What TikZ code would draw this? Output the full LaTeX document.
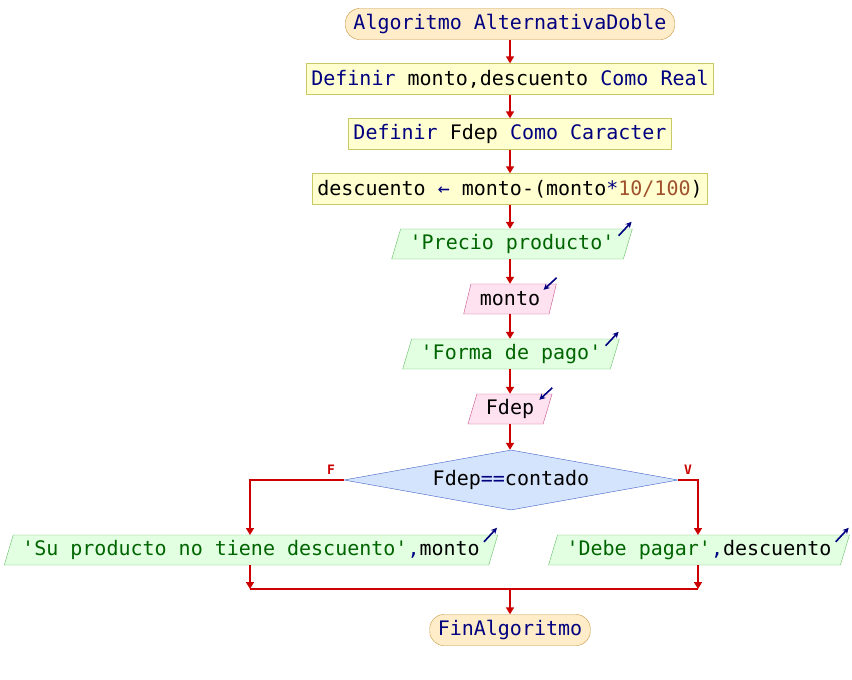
\documentclass[tikz,border=0pt]{standalone}
\usepackage{fontspec}
\setmonofont{DejaVu Sans Mono}
\usepackage{tikz}
\usetikzlibrary{positioning}
\usetikzlibrary{shapes.geometric}
\usetikzlibrary{arrows.meta}
\usetikzlibrary{calc}
\definecolor{kw}{RGB}{0,0,128}
\definecolor{str}{RGB}{0,100,0}
\definecolor{num}{RGB}{160,82,45}
\definecolor{flow}{RGB}{204,0,0}
\definecolor{termfill}{RGB}{255,236,200}
\definecolor{termdraw}{RGB}{200,150,60}
\definecolor{procfill}{RGB}{255,255,208}
\definecolor{procdraw}{RGB}{200,200,100}
\definecolor{outfill}{RGB}{226,255,226}
\definecolor{outdraw}{RGB}{100,190,100}
\definecolor{infill}{RGB}{255,226,240}
\definecolor{indraw}{RGB}{200,80,140}
\definecolor{condfill}{RGB}{212,228,252}
\definecolor{conddraw}{RGB}{64,96,200}
\begin{document}
\begin{tikzpicture}[x=1pt, y=-1pt,
  every node/.style={font=\ttfamily\fontsize{20}{24}\selectfont},
  terminal/.style={draw=termdraw, fill=termfill, rounded corners=14pt, minimum height=31pt, inner xsep=8pt},
  proc/.style={draw=procdraw, fill=procfill, minimum height=31pt, inner xsep=5pt},
  outbox/.style={trapezium, trapezium left angle=71, trapezium right angle=109, draw=outdraw, fill=outfill, minimum height=30pt, inner xsep=9pt, trapezium stretches body},
  inbox/.style={trapezium, trapezium left angle=71, trapezium right angle=109, draw=indraw, fill=infill, minimum height=30pt, inner xsep=9pt, trapezium stretches body},
  decision/.style={diamond, aspect=5.6, draw=conddraw, fill=condfill, minimum width=334pt, minimum height=60pt, inner sep=0pt},
  flowline/.style={flow, line width=1.6pt, -{Triangle[width=8pt,length=7pt]}},
  plainline/.style={flow, line width=1.6pt},
  outicon/.style={kw, line width=1.6pt, -{Stealth[width=6pt,length=6pt]}},
  branch/.style={flow, font=\ttfamily\bfseries\fontsize{13}{15}\selectfont}
]
\useasboundingbox (0,0) rectangle (852,680);

% nodes
\node[terminal] (start) at (510,24) {\textcolor{kw}{Algoritmo AlternativaDoble}};
\node[proc] (defA) at (510,79) {\textcolor{kw}{Definir} monto,descuento \textcolor{kw}{Como Real}};
\node[proc] (defB) at (510,134) {\textcolor{kw}{Definir} Fdep \textcolor{kw}{Como Caracter}};
\node[proc] (asig) at (510,189) {descuento \textcolor{kw}{←} monto-(monto\textcolor{kw}{*}\textcolor{num}{10/100})};
\node[outbox] (outA) at (512,244) {\textcolor{str}{'Precio producto'}};
\node[inbox] (inA) at (510,299) {monto};
\node[outbox] (outB) at (511,354) {\textcolor{str}{'Forma de pago'}};
\node[inbox] (inB) at (510,409) {Fdep};
\node[decision] (cond) at (511,480) {Fdep\textcolor{kw}{==}contado};
\node[outbox] (outF) at (251,550) {\textcolor{str}{'Su producto no tiene descuento'}\textcolor{kw}{,}monto};
\node[outbox] (outV) at (699,550) {\textcolor{str}{'Debe pagar'}\textcolor{kw}{,}descuento};
\node[terminal] (fin) at (510,630) {\textcolor{kw}{FinAlgoritmo}};

% branch labels
\node[branch] (lblF) at (331,470) {F};
\node[branch] (lblV) at (688,470) {V};

% connectors
\draw[flowline] (start) -- (defA);
\draw[flowline] (defA) -- (defB);
\draw[flowline] (defB) -- (asig);
\draw[flowline] (asig.south) -- (asig.south |- outA.north);
\draw[flowline] (outA.south -| asig.south) -- (asig.south |- inA.north);
\draw[flowline] (inA) -- (inA |- outB.north);
\draw[flowline] (outB.south -| inA) -- (inB);
\draw[flowline] (inB) -- (inB |- cond.north);
\draw[flowline] (cond.west) -| (250,535) coordinate (topF);
\draw[flowline] (cond.east) -| (698,535) coordinate (topV);

\coordinate (mergeF) at (250,589);
\coordinate (mergeV) at (698,589);
\coordinate (mergeC) at (510,589);
\draw[flowline] (outF.south -| mergeF) -- (mergeF);
\draw[flowline] (outV.south -| mergeV) -- (mergeV);
\draw[plainline] (mergeF) -- (mergeV);
\draw[flowline] (mergeC) -- (fin);

% in/out icons
\foreach \n in {outA,outB,outF,outV}
  \draw[outicon] ($(\n.top right corner)+(-14,7)$) -- ($(\n.top right corner)+(-1,-7)$);
\foreach \n in {inA,inB}
  \draw[outicon] ($(\n.top right corner)+(0,-6)$) -- ($(\n.top right corner)+(-13,6)$);

\end{tikzpicture}
\end{document}
